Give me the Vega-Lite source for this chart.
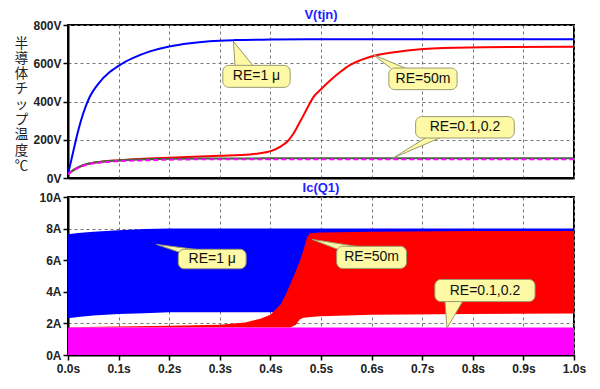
{
  "$schema": "https://vega.github.io/schema/vega-lite/v6.json",
  "autosize": {"type": "pad"},
  "padding": {"left": 13, "top": 8, "right": 5, "bottom": 5},
  "background": "white",
  "spacing": 19,
  "bounds": "flush",
  "config": {
    "view": {"stroke": "black", "strokeWidth": 2},
    "axis": {
      "labelFont": "Liberation Sans",
      "labelFontWeight": "bold",
      "labelFontSize": 12,
      "labelColor": "#222222",
      "labelFlush": false,
      "domainColor": "black",
      "domainWidth": 2,
      "tickColor": "black",
      "tickWidth": 1.5,
      "tickSize": 5,
      "gridColor": "#777777",
      "gridDash": [3, 3],
      "gridWidth": 1,
      "gridOpacity": 1
    },
    "title": {"font": "Liberation Sans", "fontWeight": "bold", "fontSize": 13, "color": "#2222ff", "anchor": "middle"}
  },
  "datasets": {
    "v": [
      {"s": "b", "t": 0, "v": 19}, {"s": "b", "t": 0.0105, "v": 140}, {"s": "b", "t": 0.0204, "v": 250}, {"s": "b", "t": 0.03, "v": 337},
      {"s": "b", "t": 0.043, "v": 425}, {"s": "b", "t": 0.059, "v": 490}, {"s": "b", "t": 0.083, "v": 555}, {"s": "b", "t": 0.103, "v": 592},
      {"s": "b", "t": 0.129, "v": 628}, {"s": "b", "t": 0.162, "v": 662}, {"s": "b", "t": 0.2, "v": 688}, {"s": "b", "t": 0.241, "v": 705},
      {"s": "b", "t": 0.28, "v": 715}, {"s": "b", "t": 0.33, "v": 721}, {"s": "b", "t": 0.4, "v": 724}, {"s": "b", "t": 0.5, "v": 726},
      {"s": "b", "t": 0.7, "v": 726}, {"s": "b", "t": 1.0, "v": 726},
      {"s": "r", "t": 0, "v": 20}, {"s": "r", "t": 0.01, "v": 40}, {"s": "r", "t": 0.02, "v": 55}, {"s": "r", "t": 0.036, "v": 72},
      {"s": "r", "t": 0.062, "v": 84}, {"s": "r", "t": 0.102, "v": 93}, {"s": "r", "t": 0.16, "v": 102}, {"s": "r", "t": 0.2, "v": 106},
      {"s": "r", "t": 0.26, "v": 112}, {"s": "r", "t": 0.3, "v": 116}, {"s": "r", "t": 0.36, "v": 123}, {"s": "r", "t": 0.379, "v": 129},
      {"s": "r", "t": 0.402, "v": 142}, {"s": "r", "t": 0.419, "v": 163}, {"s": "r", "t": 0.435, "v": 195}, {"s": "r", "t": 0.445, "v": 230},
      {"s": "r", "t": 0.458, "v": 291}, {"s": "r", "t": 0.472, "v": 361}, {"s": "r", "t": 0.485, "v": 423}, {"s": "r", "t": 0.501, "v": 467},
      {"s": "r", "t": 0.518, "v": 510}, {"s": "r", "t": 0.538, "v": 554}, {"s": "r", "t": 0.557, "v": 590}, {"s": "r", "t": 0.577, "v": 615},
      {"s": "r", "t": 0.603, "v": 638}, {"s": "r", "t": 0.656, "v": 662}, {"s": "r", "t": 0.72, "v": 677}, {"s": "r", "t": 0.821, "v": 684},
      {"s": "r", "t": 1.0, "v": 686},
      {"s": "g", "t": 0, "v": 20}, {"s": "g", "t": 0.01, "v": 40}, {"s": "g", "t": 0.02, "v": 55}, {"s": "g", "t": 0.036, "v": 72},
      {"s": "g", "t": 0.062, "v": 84}, {"s": "g", "t": 0.102, "v": 92}, {"s": "g", "t": 0.16, "v": 98}, {"s": "g", "t": 0.2, "v": 100},
      {"s": "g", "t": 0.3, "v": 102}, {"s": "g", "t": 0.5, "v": 103}, {"s": "g", "t": 1.0, "v": 103},
      {"s": "m", "t": 0, "v": 20}, {"s": "m", "t": 0.01, "v": 39}, {"s": "m", "t": 0.02, "v": 53}, {"s": "m", "t": 0.036, "v": 69},
      {"s": "m", "t": 0.062, "v": 80}, {"s": "m", "t": 0.102, "v": 88}, {"s": "m", "t": 0.16, "v": 93}, {"s": "m", "t": 0.2, "v": 96},
      {"s": "m", "t": 0.3, "v": 98}, {"s": "m", "t": 0.5, "v": 98}, {"s": "m", "t": 1.0, "v": 98}
    ],
    "vptr": [
      {"id": 1, "o": 1, "t": 0.33, "v": 589}, {"id": 1, "o": 2, "t": 0.327, "v": 714}, {"id": 1, "o": 3, "t": 0.365, "v": 589},
      {"id": 2, "o": 1, "t": 0.638, "v": 574}, {"id": 2, "o": 2, "t": 0.603, "v": 645}, {"id": 2, "o": 3, "t": 0.667, "v": 574},
      {"id": 3, "o": 1, "t": 0.707, "v": 210}, {"id": 3, "o": 2, "t": 0.642, "v": 104}, {"id": 3, "o": 3, "t": 0.735, "v": 210}
    ],
    "vbox": [
      {"t": 0.306, "t2": 0.439, "v": 474, "v2": 589},
      {"t": 0.634, "t2": 0.769, "v": 462, "v2": 575},
      {"t": 0.687, "t2": 0.882, "v": 209, "v2": 321}
    ],
    "vlab": [
      {"t": 0.3725, "v": 531, "label": "RE=1 μ"},
      {"t": 0.7015, "v": 518, "label": "RE=50m"},
      {"t": 0.7845, "v": 265, "label": "RE=0.1,0.2"}
    ],
    "ic": [
      {"s": "b", "t": 0, "a": 2.33, "a2": 7.65}, {"s": "b", "t": 0.02, "a": 2.4, "a2": 7.72}, {"s": "b", "t": 0.05, "a": 2.5, "a2": 7.8},
      {"s": "b", "t": 0.1, "a": 2.6, "a2": 7.9}, {"s": "b", "t": 0.15, "a": 2.65, "a2": 7.97}, {"s": "b", "t": 0.2, "a": 2.7, "a2": 8.0},
      {"s": "b", "t": 0.3, "a": 2.7, "a2": 8.0}, {"s": "b", "t": 0.45, "a": 2.7, "a2": 8.0}, {"s": "b", "t": 0.6, "a": 2.75, "a2": 8.0},
      {"s": "b", "t": 1.0, "a": 2.75, "a2": 8.0},
      {"s": "r", "t": 0, "a": 1.74, "a2": 1.76}, {"s": "r", "t": 0.1, "a": 1.74, "a2": 1.8}, {"s": "r", "t": 0.2, "a": 1.74, "a2": 1.85},
      {"s": "r", "t": 0.3, "a": 1.74, "a2": 1.92}, {"s": "r", "t": 0.35, "a": 1.74, "a2": 2.05}, {"s": "r", "t": 0.38, "a": 1.74, "a2": 2.3},
      {"s": "r", "t": 0.4, "a": 1.74, "a2": 2.55}, {"s": "r", "t": 0.42, "a": 1.74, "a2": 3.2}, {"s": "r", "t": 0.43, "a": 1.74, "a2": 3.8},
      {"s": "r", "t": 0.439, "a": 1.74, "a2": 4.46}, {"s": "r", "t": 0.45, "a": 1.9, "a2": 5.3}, {"s": "r", "t": 0.458, "a": 2.25, "a2": 5.94},
      {"s": "r", "t": 0.465, "a": 2.35, "a2": 6.6}, {"s": "r", "t": 0.472, "a": 2.38, "a2": 7.4}, {"s": "r", "t": 0.478, "a": 2.4, "a2": 7.7},
      {"s": "r", "t": 0.5, "a": 2.45, "a2": 7.75}, {"s": "r", "t": 0.6, "a": 2.55, "a2": 7.8}, {"s": "r", "t": 0.8, "a": 2.6, "a2": 7.85},
      {"s": "r", "t": 1.0, "a": 2.62, "a2": 7.85},
      {"s": "m", "t": 0, "a": 0, "a2": 1.74}, {"s": "m", "t": 1.0, "a": 0, "a2": 1.74}
    ],
    "iptr": [
      {"id": 1, "o": 1, "t": 0.225, "a": 6.45}, {"id": 1, "o": 2, "t": 0.175, "a": 7.0}, {"id": 1, "o": 3, "t": 0.26, "a": 6.65},
      {"id": 2, "o": 1, "t": 0.54, "a": 6.6}, {"id": 2, "o": 2, "t": 0.482, "a": 7.32}, {"id": 2, "o": 3, "t": 0.575, "a": 6.85},
      {"id": 3, "o": 1, "t": 0.745, "a": 3.4}, {"id": 3, "o": 2, "t": 0.749, "a": 1.7}, {"id": 3, "o": 3, "t": 0.78, "a": 3.4}
    ],
    "ibox": [
      {"t": 0.218, "t2": 0.352, "a": 5.46, "a2": 6.69},
      {"t": 0.531, "t2": 0.669, "a": 5.48, "a2": 6.88},
      {"t": 0.725, "t2": 0.923, "a": 3.38, "a2": 4.78}
    ],
    "ilab": [
      {"t": 0.285, "a": 6.07, "label": "RE=1 μ"},
      {"t": 0.6, "a": 6.18, "label": "RE=50m"},
      {"t": 0.824, "a": 4.08, "label": "RE=0.1,0.2"}
    ]
  },
  "vconcat": [
    {
      "width": 506,
      "height": 153,
      "title": {"text": "V(tjn)", "offset": -3},
      "layer": [
        {
          "data": {"name": "v"},
          "transform": [{"filter": "datum.s != 'm'"}],
          "mark": {"type": "line", "strokeWidth": 2, "clip": true, "interpolate": "monotone"},
          "encoding": {
            "x": {"field": "t", "type": "quantitative", "scale": {"domain": [0, 1], "nice": false},
              "axis": {"values": [0, 0.1, 0.2, 0.3, 0.4, 0.5, 0.6, 0.7, 0.8, 0.9, 1.0], "labels": false, "ticks": false, "title": null, "grid": true}},
            "y": {"field": "v", "type": "quantitative", "scale": {"domain": [0, 800], "nice": false},
              "axis": {"values": [0, 200, 400, 600, 800], "tickCount": 5, "labelExpr": "datum.value + 'V'", "labelPadding": 2, "labelOverlap": false, "labelSeparation": -30,
                "title": ["半", "導", "体", "チ", "ッ", "プ", "温", "度", "℃"],
                "titleAngle": 0, "titleX": -47, "titleY": 11, "titleAlign": "center", "titleBaseline": "top",
                "titleFont": "Noto Sans CJK JP", "titleFontSize": 13.5, "titleFontWeight": "normal", "titleLineHeight": 15.3, "titleColor": "#222222"}},
            "color": {"field": "s", "type": "nominal", "scale": {"domain": ["b", "r", "g", "m"], "range": ["#0000ff", "#ff0000", "#2f6f2f", "#ff00ff"]}, "legend": null},
            "detail": {"field": "s"}
          }
        },
        {
          "data": {"name": "v"},
          "transform": [{"filter": "datum.s == 'm'"}],
          "mark": {"type": "line", "strokeWidth": 2, "strokeDash": [5, 3], "clip": true, "interpolate": "monotone"},
          "encoding": {
            "x": {"field": "t", "type": "quantitative"},
            "y": {"field": "v", "type": "quantitative"},
            "color": {"field": "s", "type": "nominal", "legend": null}
          }
        },
        {
          "data": {"name": "vptr"},
          "mark": {"type": "line", "fill": "#fdf9a4", "stroke": "#9a9a70", "strokeWidth": 1},
          "encoding": {
            "x": {"field": "t", "type": "quantitative"},
            "y": {"field": "v", "type": "quantitative"},
            "detail": {"field": "id"},
            "order": {"field": "o"}
          }
        },
        {
          "data": {"name": "vbox"},
          "mark": {"type": "rect", "fill": "#fdf9a4", "stroke": "#9a9a70", "strokeWidth": 1, "cornerRadius": 6},
          "encoding": {
            "x": {"field": "t", "type": "quantitative"},
            "x2": {"field": "t2"},
            "y": {"field": "v", "type": "quantitative"},
            "y2": {"field": "v2"}
          }
        },
        {
          "data": {"name": "vlab"},
          "mark": {"type": "text", "font": "Liberation Sans", "fontSize": 14, "color": "#111111", "align": "center", "baseline": "middle"},
          "encoding": {
            "x": {"field": "t", "type": "quantitative"},
            "y": {"field": "v", "type": "quantitative"},
            "text": {"field": "label"}
          }
        }
      ]
    },
    {
      "width": 506,
      "height": 158,
      "title": {"text": "Ic(Q1)", "offset": -4},
      "layer": [
        {
          "data": {"name": "ic"},
          "mark": {"type": "area", "clip": true, "opacity": 1},
          "encoding": {
            "x": {"field": "t", "type": "quantitative", "scale": {"domain": [0, 1], "nice": false},
              "axis": {"values": [0, 0.1, 0.2, 0.3, 0.4, 0.5, 0.6, 0.7, 0.8, 0.9, 1.0], "labelExpr": "format(datum.value, '.1f') + 's'", "labelPadding": 3, "labelOverlap": false, "title": null, "grid": true}},
            "y": {"field": "a", "type": "quantitative", "scale": {"domain": [0, 10], "nice": false},
              "axis": {"values": [0, 2, 4, 6, 8, 10], "tickCount": 6, "labelExpr": "datum.value + 'A'", "labelPadding": 2, "labelOverlap": false, "labelSeparation": -30, "title": null}},
            "y2": {"field": "a2"},
            "color": {"field": "s", "type": "nominal", "scale": {"domain": ["b", "r", "m"], "range": ["#0000ff", "#ff0000", "#ff00ff"]}, "legend": null},
            "detail": {"field": "s"}
          }
        },
        {
          "data": {"name": "iptr"},
          "mark": {"type": "line", "fill": "#fdf9a4", "stroke": "#9a9a70", "strokeWidth": 1},
          "encoding": {
            "x": {"field": "t", "type": "quantitative"},
            "y": {"field": "a", "type": "quantitative"},
            "detail": {"field": "id"},
            "order": {"field": "o"}
          }
        },
        {
          "data": {"name": "ibox"},
          "mark": {"type": "rect", "fill": "#fdf9a4", "stroke": "#9a9a70", "strokeWidth": 1, "cornerRadius": 6},
          "encoding": {
            "x": {"field": "t", "type": "quantitative"},
            "x2": {"field": "t2"},
            "y": {"field": "a", "type": "quantitative"},
            "y2": {"field": "a2"}
          }
        },
        {
          "data": {"name": "ilab"},
          "mark": {"type": "text", "font": "Liberation Sans", "fontSize": 14, "color": "#111111", "align": "center", "baseline": "middle"},
          "encoding": {
            "x": {"field": "t", "type": "quantitative"},
            "y": {"field": "a", "type": "quantitative"},
            "text": {"field": "label"}
          }
        }
      ]
    }
  ]
}
